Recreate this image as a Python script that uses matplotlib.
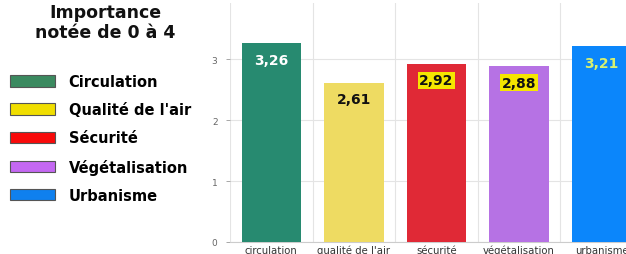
import matplotlib
matplotlib.use("Agg")
import matplotlib.pyplot as plt
from matplotlib.patches import Patch
from matplotlib.ticker import FixedLocator

# data
categories = ["circulation", "qualité de l'air", "sécurité", "végétalisation", "urbanisme"]
values = [3.26, 2.61, 2.92, 2.88, 3.21]
value_labels = ["3,26", "2,61", "2,92", "2,88", "3,21"]
bar_colors = ["#278a70", "#eedb62", "#e02936", "#b672e4", "#0b86fb"]

legend_labels = ["Circulation", "Qualité de l'air", "Sécurité", "Végétalisation", "Urbanisme"]
legend_colors = ["#3b8a60", "#f0de00", "#f80a0a", "#c468f2", "#0f80ee"]

# label styles (text colour, box colour or None)
label_colors = ["white", "#111111", "#111111", "#111111", "#d8f070"]
label_boxes = [None, None, "#f5e600", "#f5e600", None]

plt.rcParams["font.family"] = ["DejaVu Sans"]

fig = plt.figure(figsize=(6.26, 2.55), dpi=100)
fig.patch.set_facecolor("white")

# axes runs off the right edge, like the cropped original
ax = fig.add_axes([230 / 626, 12 / 255, 413 / 626, 239 / 255])
x = list(range(len(categories)))
ax.bar(x, values, width=0.72, color=bar_colors, zorder=3)

ax.set_xlim(-0.5, len(categories) - 0.5)
ax.set_ylim(0, 3.92)
ax.set_yticks([0, 1, 2, 3])
ax.set_xticks(x)
ax.set_xticklabels(categories)
ax.xaxis.set_minor_locator(FixedLocator([i - 0.5 for i in range(len(categories) + 1)]))
ax.tick_params(axis="x", which="both", length=0, labelsize=7.3, colors="#333333", pad=2)
ax.tick_params(axis="y", length=3, width=0.6, color="#999999", labelsize=6.5,
               labelcolor="#666666", pad=6)
ax.grid(True, axis="y", color="#e4e4e4", linewidth=0.8, zorder=0)
ax.grid(True, axis="x", which="minor", color="#e4e4e4", linewidth=0.8, zorder=0)
for s in ["top", "right", "left"]:
    ax.spines[s].set_visible(False)
ax.spines["bottom"].set_color("#cccccc")

for i, v in enumerate(values):
    box = None
    if label_boxes[i]:
        box = dict(boxstyle="square,pad=0.1", facecolor=label_boxes[i], edgecolor="none")
    ax.text(i, v - 0.27, value_labels[i], ha="center", va="center", fontsize=10,
            fontweight="bold", color=label_colors[i], bbox=box, zorder=4)

# legend block on the left
fig.text(105 / 626, 1 - 23 / 255, "Importance\nnotée de 0 à 4", ha="center", va="center",
         fontsize=12.5, fontweight="bold", color="#111111", linespacing=1.15)
handles = [Patch(facecolor=c, edgecolor="#555555", linewidth=0.8) for c in legend_colors]
fig.legend(handles, legend_labels, loc="upper left", bbox_to_anchor=(0.0, 1 - 65 / 255),
           frameon=False, prop={"weight": "bold", "size": 10.5}, handlelength=3.1,
           handleheight=0.85, handletextpad=0.9, labelspacing=0.9, borderaxespad=0.3)

fig.savefig("out.png", dpi=100)
